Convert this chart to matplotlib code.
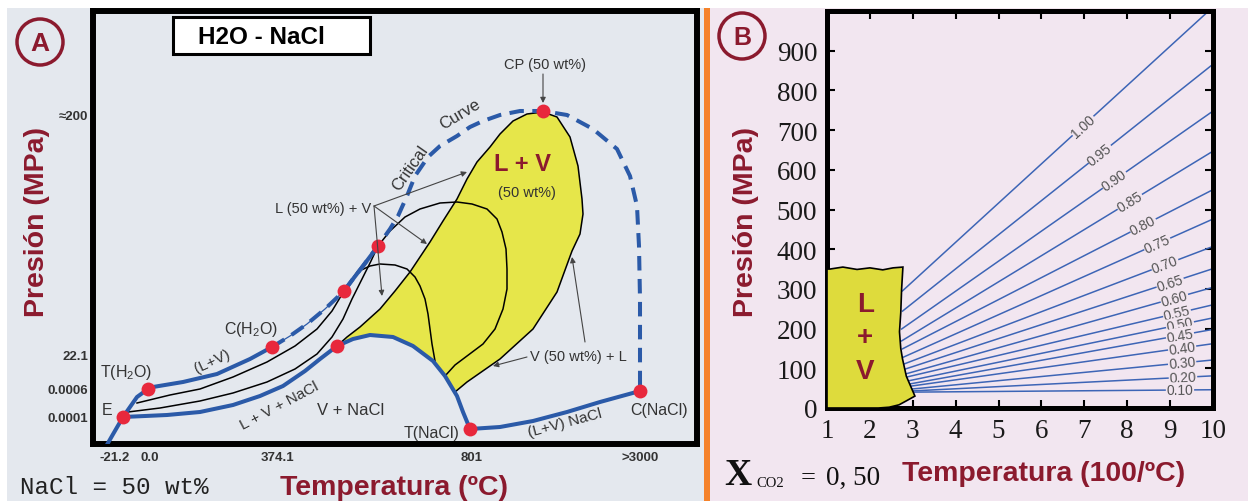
import numpy as np
import matplotlib
matplotlib.use('Agg')
import matplotlib.pyplot as plt
from matplotlib.patches import Rectangle, Circle, Polygon

W, H = 1248, 502
DARKRED = '#8b1a2e'
BLUE_A = '#2b5aa8'
RED_DOT = '#e8283c'
YELLOW_A = '#e6e64a'
YELLOW_B = '#dedb3c'
BG_A = '#e4e8ee'
BG_B = '#f2e6f0'
ORANGE = '#f5822a'
BLUE_B = '#3d65b6'
GRAY_TXT = '#333333'

plt.rcParams['font.family'] = ['Liberation Sans', 'DejaVu Sans']
plt.rcParams['mathtext.fontset'] = 'custom'
plt.rcParams['mathtext.rm'] = 'Liberation Sans'
plt.rcParams['mathtext.it'] = 'Liberation Sans:italic'
plt.rcParams['mathtext.bf'] = 'Liberation Sans:bold'

# ---------------- Panel A data (schematic P-T diagram, schematic units, y downward) ----
ice_x = [100, 112, 123, 137, 148]
ice_y = [458, 437, 418, 398, 390]
lv_h2o_x = [148, 153, 183, 217, 250, 272]
lv_h2o_y = [390, 388, 383, 375, 360, 348]
crit_x = [272, 290, 307, 325, 344, 353, 363, 378, 390, 398, 407, 415, 428, 440, 457, 470,
          483, 500, 520, 543, 567, 593, 617, 630, 637, 639, 640, 640, 640]
crit_y = [348, 337, 325, 310, 292, 280, 267, 247, 230, 217, 197, 177, 158, 147, 137, 128,
          122, 116, 112, 112, 116, 130, 150, 177, 207, 247, 300, 350, 392]
three_x = [123, 145, 167, 200, 233, 260, 283, 305, 320, 337, 353, 370, 393, 413, 433, 445, 457, 463, 470]
three_y = [418, 417, 416, 413, 406, 397, 387, 372, 360, 347, 340, 336, 338, 347, 362, 377, 397, 413, 430]
lv_nacl_x = [470, 500, 533, 567, 600, 640]
lv_nacl_y = [430, 428, 422, 413, 403, 392]
bub1_x = [137, 170, 200, 233, 267, 295, 317, 332, 344]
bub1_y = [404, 396, 390, 378, 363, 347, 330, 312, 292]
bub2_x = [128, 160, 200, 233, 267, 295, 317, 332, 343, 352, 362, 371, 378]
bub2_y = [413, 409, 402, 394, 383, 370, 355, 338, 320, 300, 280, 262, 247]
dew1_x = [344, 357, 370, 380, 395, 407, 415, 420, 425, 428, 430, 432, 435]
dew1_y = [292, 273, 267, 265, 266, 270, 278, 287, 300, 315, 330, 345, 362]
dew2_x = [378, 390, 405, 420, 440, 457, 472, 487, 497, 502, 506, 507, 507, 503, 495, 483, 467, 455, 445]
dew2_y = [247, 232, 218, 210, 204, 203, 205, 210, 220, 233, 250, 270, 290, 310, 330, 345, 357, 366, 377]
yl_x = [337, 347, 360, 380, 395, 410, 420, 430, 443, 457, 467, 477, 490, 500, 513, 527, 543]
yl_y = [347, 338, 328, 310, 292, 273, 258, 243, 222, 200, 180, 163, 148, 135, 122, 115, 113]
yr_x = [543, 557, 570, 578, 582, 583, 580, 572, 557, 533, 500, 467, 455]
yr_y = [113, 118, 138, 167, 200, 215, 235, 252, 293, 330, 360, 383, 393]
ybot_x = [445, 433, 413, 393, 370, 353, 337]
ybot_y = [377, 362, 347, 338, 336, 340, 347]
dot_x = [123, 148, 272, 337, 344, 378, 543, 470, 640]
dot_y = [418, 390, 348, 347, 292, 247, 112, 430, 392]
a_ytick_pos = [116, 356, 390, 418]
a_ytick_lab = ['≈200', '22.1', '0.0006', '0.0001']
a_xtick_pos = [115, 150, 277, 472, 640]
a_xtick_lab = ['-21.2', '0.0', '374.1', '801', '>3000']

# ---------------- Panel B data -------------------------------------------------------
b_labels = ['1.00', '0.95', '0.90', '0.85', '0.80', '0.75', '0.70', '0.65', '0.60',
            '0.55', '0.50', '0.45', '0.40', '0.30', '0.20', '0.10']
b_x0 = [2.76, 2.76, 2.74, 2.74, 2.76, 2.78, 2.80, 2.82, 2.84, 2.86, 2.88, 2.90, 2.95, 3.0, 3.0, 3.0]
b_y0 = [295, 244, 199, 169, 149, 128, 111, 98, 86, 78, 68, 60, 55, 48, 43, 40]
b_y1 = [1010, 866, 748, 647, 550, 476, 407, 351, 304, 260, 227, 198, 162, 121, 81, 46]
b_lab_x = [6.97, 7.36, 7.7, 8.06, 8.37, 8.7, 8.88, 9.0, 9.1, 9.16, 9.23, 9.23, 9.28, 9.28, 9.3, 9.23]
box_x = [1.0, 1.07, 1.37, 1.70, 2.0, 2.3, 2.54, 2.77, 2.74, 2.72, 2.69, 2.72, 2.76, 2.85,
         2.95, 3.05, 2.85, 2.68, 2.45, 2.2, 1.0]
box_y = [350, 350, 355, 349, 353, 348, 353, 355, 300, 240, 192, 150, 124, 80,
         55, 30, 18, 8, 2, 0, 0]
b_xticks = list(range(1, 11))
b_yticks = list(range(0, 1000, 100))

# ---------------- Figure -------------------------------------------------------------
fig = plt.figure(figsize=(W / 100, H / 100), dpi=100)
bg = fig.add_axes([0, 0, 1, 1], zorder=0)
bg.set_xlim(0, W)
bg.set_ylim(H, 0)
bg.axis('off')
bg.add_patch(Rectangle((7, 9), 697, H - 9, fc=BG_A, ec='none'))
bg.add_patch(Rectangle((704, 9), 6, H - 9, fc=ORANGE, ec='none'))
bg.add_patch(Rectangle((710, 9), W - 710, H - 9, fc=BG_B, ec='none'))

# ---- Panel A axes
axA = fig.add_axes([93 / W, 1 - 445 / H, 604 / W, 433 / H], zorder=1)
axA.set_facecolor(BG_A)
axA.set_xlim(93, 697)
axA.set_ylim(445, 12)
for s in axA.spines.values():
    s.set_linewidth(4.3)
    s.set_color('black')
axA.set_yticks(a_ytick_pos, a_ytick_lab)
axA.set_xticks(a_xtick_pos, a_xtick_lab)
axA.tick_params(length=0, labelsize=9.5, labelcolor=GRAY_TXT)
axA.tick_params(axis='y', pad=3.6)
axA.tick_params(axis='x', pad=5)
for t in axA.get_xticklabels() + axA.get_yticklabels():
    t.set_fontweight('bold')

poly_x = yl_x + yr_x + ybot_x
poly_y = yl_y + yr_y + ybot_y
axA.add_patch(Polygon(np.column_stack([poly_x, poly_y]), closed=True, fc=YELLOW_A, ec='none', zorder=1))
axA.plot(yl_x, yl_y, color='black', lw=1.1, zorder=2)
axA.plot(yr_x, yr_y, color='black', lw=1.1, zorder=2)
for xs, ys in [(bub1_x, bub1_y), (bub2_x, bub2_y), (dew1_x, dew1_y), (dew2_x, dew2_y)]:
    axA.plot(xs, ys, color='black', lw=1.1, zorder=2)
axA.plot(ice_x, ice_y, color=BLUE_A, lw=2.9, zorder=3, solid_capstyle='round')
axA.plot(lv_h2o_x, lv_h2o_y, color=BLUE_A, lw=2.9, zorder=3)
axA.plot(three_x, three_y, color=BLUE_A, lw=2.9, zorder=3)
axA.plot(lv_nacl_x, lv_nacl_y, color=BLUE_A, lw=2.9, zorder=3)
axA.plot(crit_x, crit_y, color=BLUE_A, lw=2.9, zorder=3, dashes=(3.6, 2.1))
axA.plot(crit_x[:5], crit_y[:5], color=BLUE_A, lw=0.9, zorder=3)
axA.plot(crit_x[4:8], crit_y[4:8], color=BLUE_A, lw=2.9, zorder=3)
axA.plot(dot_x, dot_y, 'o', color=RED_DOT, ms=10, mec='none', zorder=4)

arrow_kw = dict(arrowstyle='-|>', color='#444444', lw=0.8, mutation_scale=8, shrinkA=0, shrinkB=0)
for (sx, sy), (ex, ey) in [((374, 207), (467, 173)), ((374, 207), (427, 245)),
                           ((374, 207), (382, 297)), ((543, 75), (543, 104)),
                           ((527, 358), (493, 367)), ((585, 343), (572, 258))]:
    axA.annotate('', xy=(ex, ey), xytext=(sx, sy), arrowprops=arrow_kw, zorder=5)

def ta(x, y, s, size=11, rot=0, **kw):
    axA.text(x, y, s, fontsize=size, rotation=rot, ha='center', va='center',
             color=kw.pop('color', GRAY_TXT), rotation_mode='anchor', zorder=6, **kw)

ta(126, 373, 'T(H$_2$O)', 11.5)
ta(107, 411, 'E', 11.5)
ta(251, 330, 'C(H$_2$O)', 11.5)
ta(212, 362, '(L+V)', 11, 25)
ta(279, 406, 'L + V + NaCl', 11, 28)
ta(351, 411, 'V + NaCl', 12)
ta(432, 434, 'T(NaCl)', 11.5)
ta(565, 423, '(L+V) NaCl', 11, 15)
ta(659, 411, 'C(NaCl)', 11.5)
ta(545, 65, 'CP (50 wt%)', 10.5)
ta(323, 209, 'L (50 wt%) + V', 10.5)
ta(578, 357, 'V (50 wt%) + L', 10.5)
ta(527, 193, '(50 wt%)', 10.5)
ta(523, 165, 'L + V', 17, color=DARKRED, fontweight='bold')
ta(410, 168, 'Critical', 12, 55)
ta(460, 115, 'Curve', 12, 31)

axA.add_patch(Rectangle((173, 18), 197, 37, fc='white', ec='black', lw=2.2, zorder=7))
axA.text(261, 37, 'H2O - NaCl', fontsize=17.5, fontweight='bold', ha='center', va='center', zorder=8)

# ---- Panel A outer texts
bg.add_patch(Circle((40, 43), 23, fc='none', ec=DARKRED, lw=2.5))
bg.text(40, 44, 'A', fontsize=19, fontweight='bold', color=DARKRED, ha='center', va='center')
bg.text(37, 222, 'Presión (MPa)', fontsize=20.5, fontweight='bold', color=DARKRED,
        rotation=90, ha='center', va='center')
bg.text(394, 488, 'Temperatura (ºC)', fontsize=20.5, fontweight='bold', color=DARKRED,
        ha='center', va='center')
bg.text(20, 488, 'NaCl = 50 wt%', fontsize=17.5, family='Liberation Mono', color='#222222',
        ha='left', va='center')

# ---- Panel B axes
axB = fig.add_axes([827 / W, 1 - 409 / H, 386 / W, 397 / H], zorder=1)
axB.set_facecolor(BG_B)
axB.set_xlim(1, 10)
axB.set_ylim(0, 1000)
for s in axB.spines.values():
    s.set_linewidth(3.6)
    s.set_color('black')
axB.set_xticks(b_xticks)
axB.set_yticks(b_yticks)
axB.tick_params(direction='in', length=6, width=1.5, top=True, right=True,
                labelsize=19.5, labelcolor='#1a1a1a', pad=7)
for t in axB.get_xticklabels() + axB.get_yticklabels():
    t.set_fontfamily('Liberation Serif')

for lab, x0, y0, y1, lx in zip(b_labels, b_x0, b_y0, b_y1, b_lab_x):
    axB.plot([x0, 10], [y0, y1], color=BLUE_B, lw=1.1, zorder=2)
    ly = y0 + (y1 - y0) * (lx - x0) / (10 - x0)
    p0 = axB.transData.transform((x0, y0))
    p1 = axB.transData.transform((10, y1))
    ang = np.degrees(np.arctan2(p1[1] - p0[1], p1[0] - p0[0]))
    axB.text(lx, ly, lab, rotation=ang, rotation_mode='anchor', ha='center', va='center',
             fontsize=10, color='#555555', zorder=3,
             bbox=dict(boxstyle='square,pad=0.05', fc=BG_B, ec='none'))

axB.add_patch(Polygon(np.column_stack([box_x, box_y]), closed=True, fc=YELLOW_B,
                      ec='black', lw=1.2, zorder=4))
for yy, s in [(262, 'L'), (179, '+'), (93, 'V')]:
    axB.text(1.89, yy, s, fontsize=20, fontweight='bold', color=DARKRED, ha='center',
             va='center', zorder=5)

bg.add_patch(Rectangle((850, 24), 168, 40, fc='white', ec='black', lw=2.2))
bg.text(928, 44, 'H2O - CO2', fontsize=17.5, fontweight='bold', ha='center', va='center')
bg.add_patch(Circle((742, 37), 23, fc='none', ec=DARKRED, lw=2.5))
bg.text(742, 38, 'B', fontsize=18, fontweight='bold', color=DARKRED, ha='center', va='center')
bg.text(746, 222, 'Presión (MPa)', fontsize=20.5, fontweight='bold', color=DARKRED,
        rotation=90, ha='center', va='center')
bg.text(1044, 474, 'Temperatura (100/ºC)', fontsize=20.5, fontweight='bold', color=DARKRED,
        ha='center', va='center')
bg.text(738, 476, 'X', fontsize=27, fontweight='bold', family='Liberation Serif',
        color='#111111', ha='center', va='center')
bg.text(756, 484, 'CO2', fontsize=10.5, family='Liberation Serif', color='#111111',
        ha='left', va='center')
bg.text(808, 478, '=', fontsize=19, family='Liberation Serif', color='#111111',
        ha='center', va='center')
bg.text(826, 478, '0, 50', fontsize=19.5, family='Liberation Serif', color='#111111',
        ha='left', va='center')

fig.savefig('out.png', dpi=100)
